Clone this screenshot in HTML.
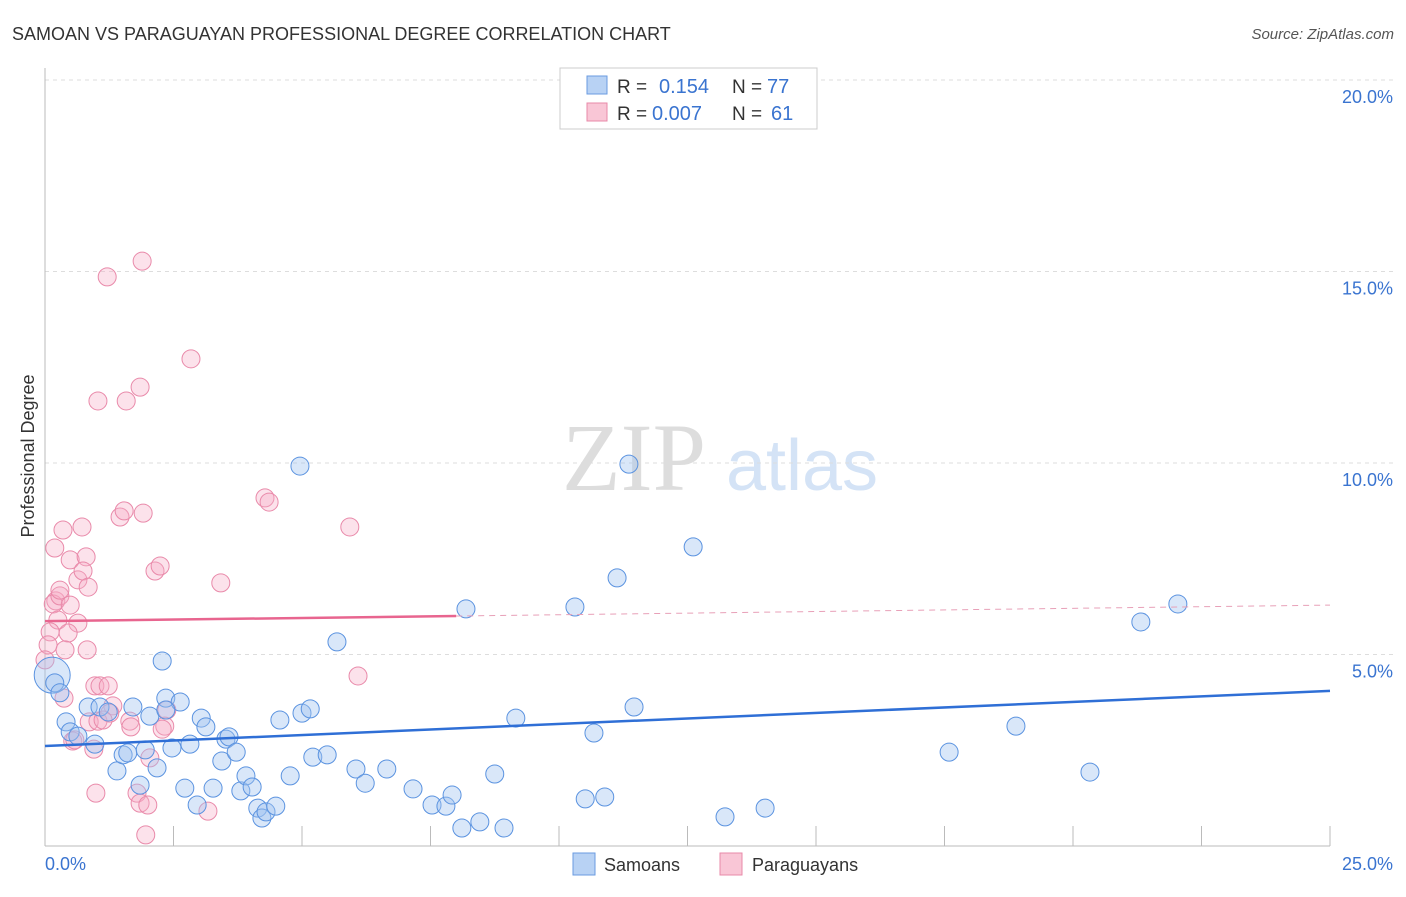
<!DOCTYPE html>
<html><head><meta charset="utf-8"><style>
body{margin:0;background:#fff;font-family:"Liberation Sans",sans-serif;}
svg text{font-family:"Liberation Sans",sans-serif;}
</style></head><body>
<svg id="c" width="1406" height="892" xmlns="http://www.w3.org/2000/svg">
<text x="12" y="40" font-size="18" fill="#333">SAMOAN VS PARAGUAYAN PROFESSIONAL DEGREE CORRELATION CHART</text>
<text x="1394" y="39" font-size="15" fill="#555" text-anchor="end" font-style="italic">Source: ZipAtlas.com</text>
<text x="634" y="490" font-size="96" fill="#ddd" text-anchor="middle" font-family="Liberation Serif" style="font-family:'Liberation Serif',serif">ZIP</text>
<text x="802" y="490" font-size="72" fill="#d4e3f6" text-anchor="middle">atlas</text>
<text x="34" y="456" font-size="18" fill="#333" text-anchor="middle" transform="rotate(-90 34 456)">Professional Degree</text>
<g id="grid"></g><g id="axes"></g><g id="pts"></g><g id="trend"></g>
<g>
<rect x="560" y="68" width="257" height="61" fill="#fff" stroke="#ccc"/>
<rect x="587" y="76" width="20" height="18" fill="#b8d2f4" stroke="#6a9be0"/>
<rect x="587" y="103" width="20" height="18" fill="#f9c6d6" stroke="#e889a8"/>
<text x="617" y="93" font-size="19" fill="#333">R = </text><text x="659" y="93" font-size="20" fill="#3a74d0">0.154</text>
<text x="732" y="93" font-size="19" fill="#333">N = </text><text x="767" y="93" font-size="20" fill="#3a74d0">77</text>
<text x="617" y="120" font-size="19" fill="#333">R = </text><text x="652" y="120" font-size="20" fill="#3a74d0">0.007</text>
<text x="732" y="120" font-size="19" fill="#333">N = </text><text x="771" y="120" font-size="20" fill="#3a74d0">61</text>
</g>
<g>
<rect x="573" y="853" width="22" height="22" fill="#b8d2f4" stroke="#6a9be0"/>
<text x="604" y="871" font-size="18" fill="#333">Samoans</text>
<rect x="720" y="853" width="22" height="22" fill="#f9c6d6" stroke="#e889a8"/>
<text x="752" y="871" font-size="18" fill="#333">Paraguayans</text>
</g>
</svg>
<script>
const samoanX=[0.14,0.19,0.29,0.41,0.49,0.64,0.84,0.97,1.07,1.23,1.40,1.52,1.61,1.71,1.85,1.95,2.04,2.18,2.28,2.35,2.47,2.63,2.72,2.82,2.96,3.04,3.13,3.27,3.44,3.52,3.58,3.72,3.81,3.91,4.03,4.14,4.22,4.30,4.49,4.57,4.77,5.0,5.16,5.21,5.49,5.68,6.05,6.23,6.65,7.16,7.53,7.80,7.92,8.11,8.19,8.46,8.75,8.93,9.16,10.31,10.51,10.68,10.89,11.13,11.36,11.46,12.61,13.23,14.01,17.59,18.89,20.33,21.32,22.04,4.96,2.35];
const samoanY=[4.46,4.26,4.0,3.24,2.98,2.87,3.63,2.66,3.63,3.50,1.96,2.38,2.43,3.63,1.59,2.51,3.39,2.04,4.83,3.86,2.56,3.76,1.51,2.66,1.07,3.34,3.11,1.51,2.22,2.79,2.85,2.45,1.44,1.83,1.54,0.99,0.73,0.89,1.04,3.29,1.83,3.47,3.58,2.32,2.38,5.33,2.01,1.64,2.01,1.49,1.07,1.04,1.33,0.47,6.19,0.63,1.88,0.47,3.34,6.24,1.23,2.95,1.28,7.0,9.97,3.63,7.81,0.76,0.99,2.45,3.13,1.93,5.85,6.32,9.92,3.55];
const paraX=[0.19,0.35,0.72,0.21,0.16,0.29,0.49,0.80,0.64,0.74,0.84,0.49,0.25,0.64,0.10,0.45,0.06,0.39,0.82,0.37,0.54,0.97,1.07,1.23,0.95,0.86,1.03,1.32,0.99,1.46,1.54,1.91,1.65,1.67,2.04,1.79,1.85,2.00,1.96,1.03,1.58,1.85,1.21,1.89,2.84,2.14,2.24,2.37,2.33,2.28,3.17,3.42,4.28,4.36,5.93,6.09,0.58,1.26,1.13,0.0,0.29];
const paraY=[7.78,8.25,8.33,6.40,6.32,6.53,7.47,7.55,6.95,7.18,6.76,6.29,5.90,5.82,5.59,5.56,5.25,5.12,5.12,3.86,2.74,4.18,4.18,4.18,2.53,3.24,3.26,3.66,1.38,8.59,8.75,8.69,3.26,3.11,2.30,1.38,1.12,1.07,0.29,11.62,11.62,11.98,14.86,15.27,12.72,7.18,7.31,3.55,3.13,3.05,0.91,6.87,9.09,8.98,8.33,4.44,2.77,3.47,3.29,4.86,6.68];
const xTicks=[0,2.5,5,7.5,10,12.5,15,17.5,20,22.5,25];
const yTicks=[5,10,15,20];
const yTickLabels=["5.0%","10.0%","15.0%","20.0%"];
const samoanTrend=[2.61,4.05];
const paraTrend=[5.87,6.29];
const NS="http://www.w3.org/2000/svg";
const X=v=>45+v*51.4, Y=v=>846-v*38.3;
function mk(t,a,p){const e=document.createElementNS(NS,t);for(const k in a)e.setAttribute(k,a[k]);document.getElementById(p).appendChild(e);return e;}
yTicks.forEach((t,i)=>{
 const l=mk('line',{x1:45,x2:1394,y1:Y(t),y2:Y(t),stroke:'#ddd','stroke-dasharray':'4,4'},'grid');
 
 
 const tx=mk('text',{x:1393,y:Y(t)+23,'font-size':18,fill:'#3a74d0','text-anchor':'end'},'axes');
 tx.textContent=yTickLabels[i];
 
 
});
const ax=mk('line',{x1:45,x2:45,y1:68,y2:846,stroke:'#bbb'},'axes');


const bx=mk('line',{x1:45,x2:1330,y1:846,y2:846,stroke:'#bbb'},'axes');


xTicks.forEach(t=>{
 const l=mk('line',{x1:X(t),x2:X(t),y1:826,y2:846,stroke:'#bbb'},'axes');
 
 
});
const xl0=mk('text',{x:45,y:870,'font-size':18,fill:'#3a74d0'},'axes');xl0.textContent='0.0%';


const xl1=mk('text',{x:1393,y:870,'font-size':18,fill:'#3a74d0','text-anchor':'end'},'axes');xl1.textContent='25.0%';


paraX.forEach((v,i)=>{
 const c=mk('circle',{cx:X(v),cy:Y(paraY[i]),r:9,fill:'rgba(246,172,198,0.35)',stroke:'#e98aaa','stroke-width':1},'pts');
 
 
});
samoanX.forEach((v,i)=>{
 const c=mk('circle',{cx:X(v),cy:Y(samoanY[i]),r:i==0?18:9,fill:'rgba(160,196,240,0.4)',stroke:'#5b93e0','stroke-width':1},'pts');
 
 
});
const bt=mk('line',{x1:X(0),x2:X(25),y1:Y(samoanTrend[0]),y2:Y(samoanTrend[1]),stroke:'#2f6fd6','stroke-width':2.5},'trend');


const pm=paraTrend[0]+(paraTrend[1]-paraTrend[0])*0.32;
const pt=mk('line',{x1:X(0),x2:X(8),y1:Y(paraTrend[0]),y2:Y(pm),stroke:'#e8658f','stroke-width':2.5},'trend');


const pd=mk('line',{x1:X(8),x2:X(25),y1:Y(pm),y2:Y(paraTrend[1]),stroke:'#e8a0b8','stroke-width':1,'stroke-dasharray':'6,5'},'trend');


</script>
</body></html>
